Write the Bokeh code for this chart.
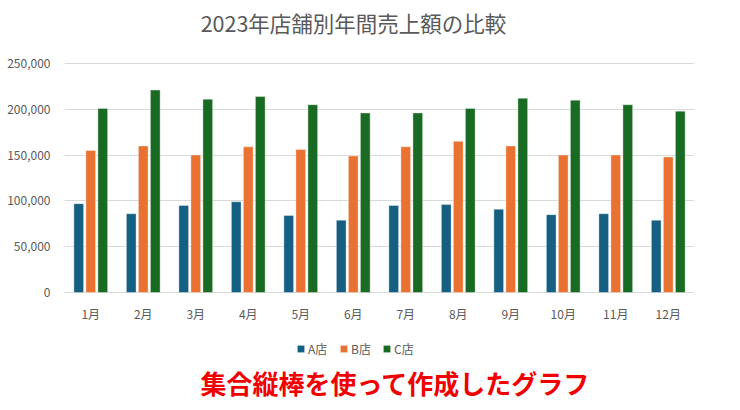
from bokeh.plotting import figure
from bokeh.models import (FactorRange, Range1d, ColumnDataSource, Legend,
                          LegendItem, Label, NumeralTickFormatter, FixedTicker)
from bokeh.transform import dodge
from bokeh.core.properties import value
from bokeh.embed import file_html
from bokeh.resources import INLINE

# ---- data ----
months = ["1月", "2月", "3月", "4月", "5月", "6月",
          "7月", "8月", "9月", "10月", "11月", "12月"]
store_a = [97000, 86000, 95000, 99000, 84000, 79000,
           95000, 96000, 91000, 85000, 86000, 79000]
store_b = [155000, 160000, 150000, 159000, 156000, 149000,
           159000, 165000, 160000, 150000, 150000, 148000]
store_c = [201000, 221000, 211000, 214000, 205000, 196000,
           196000, 201000, 212000, 210000, 205000, 198000]
series_names = ["A店", "B店", "C店"]
y_ticks = [0, 50000, 100000, 150000, 200000, 250000]
title_text = "2023年店舗別年間売上額の比較"
note_text = "集合縦棒を使って作成したグラフ"

# ---- layout / style ----
colors = ["#156082", "#E97132", "#196B24"]
FONT = "Noto Sans CJK JP"
GRAY = "#595959"
W, H = 740, 410
LEFT, RIGHT = 64, 46               # plot area spans x 64..694
TOP_PX, ZERO_PX = 63, 292          # pixel rows of the 250,000 and 0 lines
y_top_tick = y_ticks[-1]
per_px = y_top_tick / (ZERO_PX - TOP_PX)
y_max = y_top_tick + TOP_PX * per_px          # room above for the title
y_min = -(H - ZERO_PX) * per_px               # room below for labels/legend

src = ColumnDataSource(dict(month=months, a=store_a, b=store_b, c=store_c))

p = figure(width=W, height=H,
           x_range=FactorRange(*months), y_range=Range1d(y_min, y_max),
           output_backend="svg", toolbar_location=None,
           x_axis_location=None,
           min_border_left=LEFT, min_border_right=RIGHT,
           min_border_top=0, min_border_bottom=0)
p.x_range.range_padding = 0

renderers = []
for col, off, color in zip(["a", "b", "c"], [-0.229, 0.0, 0.229], colors):
    r = p.vbar(x=dodge("month", off, range=p.x_range), top=col, width=0.185,
               source=src, fill_color=color, line_color="white",
               line_width=0.6, line_alpha=0.6)
    renderers.append(r)

# month labels under the zero line
p.text(x="month", y=0, text="month", source=src, y_offset=21,
       text_align="center", text_baseline="middle",
       text_font=value(FONT), text_font_size="12px", text_color=GRAY)

# y axis
p.yaxis.ticker = FixedTicker(ticks=y_ticks)
p.yaxis.formatter = NumeralTickFormatter(format="0,0")
p.yaxis.axis_line_color = None
p.yaxis.major_tick_line_color = None
p.yaxis.minor_tick_line_color = None
p.yaxis.major_label_standoff = 8
p.yaxis.major_label_text_font = FONT
p.yaxis.major_label_text_font_size = "12px"
p.yaxis.major_label_text_color = GRAY

p.xgrid.grid_line_color = None
p.ygrid.grid_line_color = "#D9D9D9"
p.outline_line_color = None
p.background_fill_color = "white"
p.border_fill_color = "white"

# title (inside the tall plot area, screen units from its bottom-left)
title = Label(x=353 - LEFT, y=H - 22, x_units="screen", y_units="screen",
              text=title_text, text_align="center", text_baseline="middle",
              text_font=FONT, text_font_size="21.5px",
              text_color=GRAY)
p.add_layout(title)

legend = Legend(items=[LegendItem(label=n, renderers=[r])
                       for n, r in zip(series_names, renderers)],
                orientation="horizontal",
                location=(296 - LEFT, H - 348 - 8.5))
legend.label_text_font = FONT
legend.label_text_font_size = "12px"
legend.label_text_color = GRAY
legend.glyph_width = 9
legend.glyph_height = 9
legend.label_height = 17
legend.label_standoff = 3
legend.spacing = 11
legend.padding = 0
legend.margin = 0
legend.border_line_color = None
legend.background_fill_alpha = 0
p.add_layout(legend)

note = Label(x=395 - LEFT, y=H - 382, x_units="screen", y_units="screen",
             text=note_text, text_align="center", text_baseline="middle",
             text_font=FONT, text_font_size="26px", text_font_style="bold",
             text_color="#F00000")
p.add_layout(note)

open("out.html", "w").write(file_html(p, INLINE))
